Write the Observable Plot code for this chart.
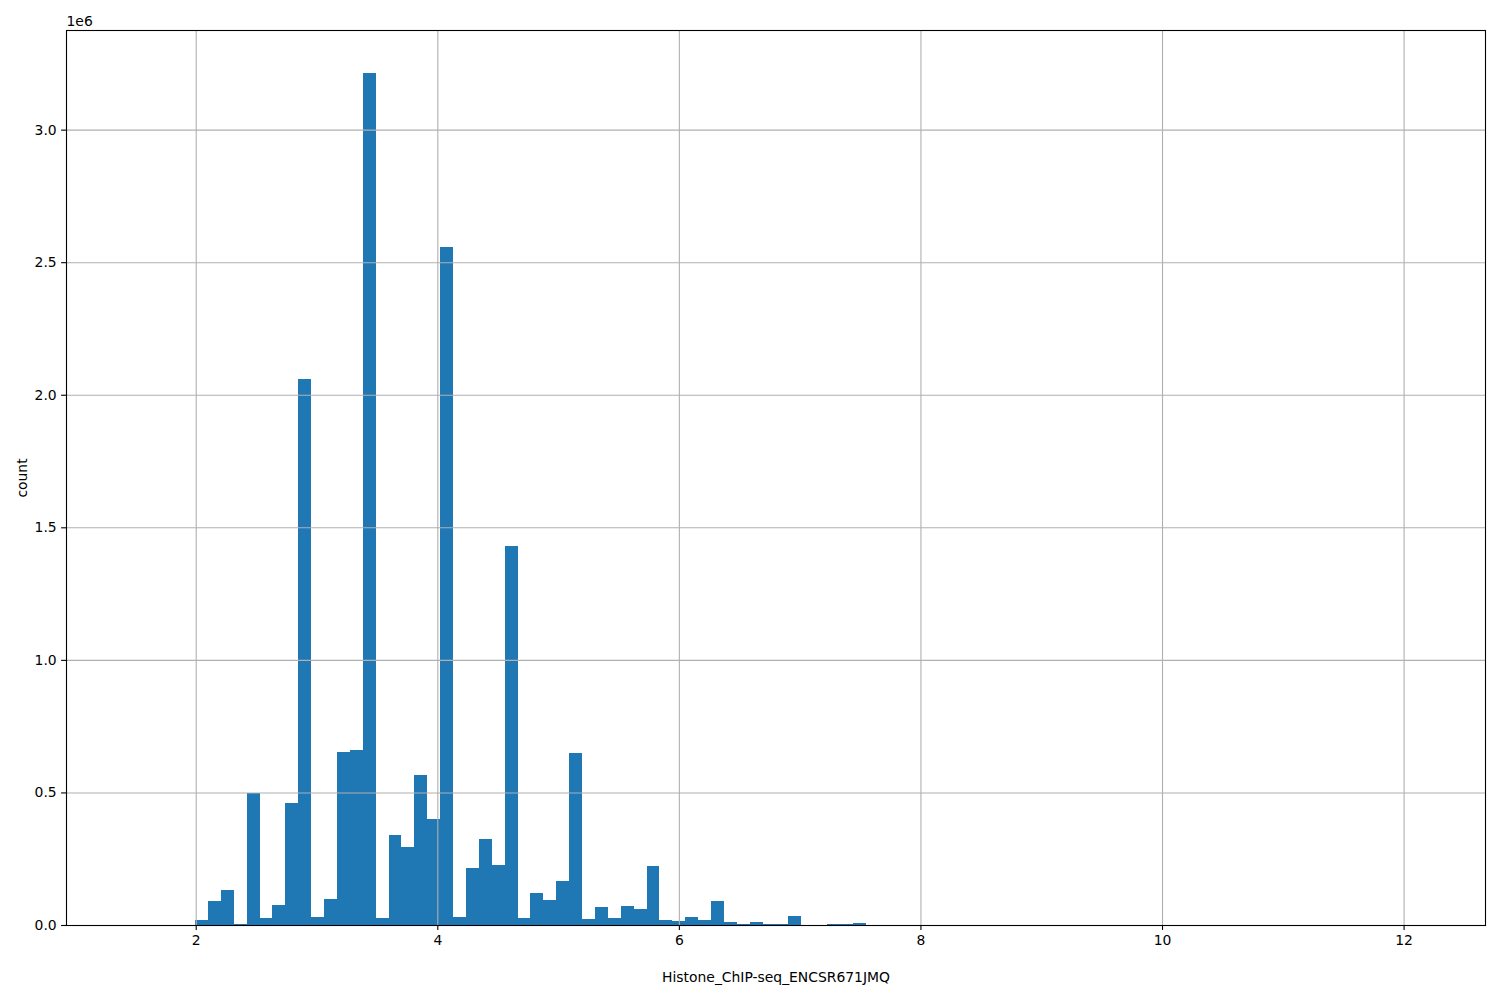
<!DOCTYPE html>
<html>
<head>
<meta charset="utf-8">
<script src="https://cdn.jsdelivr.net/npm/d3@7"></script>
<script src="https://cdn.jsdelivr.net/npm/@observablehq/plot@0.6"></script>
<style>
  html, body { margin: 0; padding: 0; background: white; }
</style>
</head>
<body>
<div id="chart"></div>
<script>
// Histogram: 100 equal-width bins between binMin and binMax
const binMin = 1.46;
const binMax = 12.14;
// counts per bin (in units of 1e6)
const counts = [
  0, 0, 0, 0, 0,
  0.019, 0.090, 0.132, 0.005, 0.496, 0.026, 0.075, 0.460, 2.060, 0.030,
  0.098, 0.653, 0.660, 3.215, 0.026, 0.340, 0.294, 0.566, 0.400, 2.558,
  0.030, 0.215, 0.325, 0.226, 1.430, 0.026, 0.121, 0.094, 0.166, 0.649,
  0.023, 0.068, 0.026, 0.072, 0.060, 0.222, 0.019, 0.015, 0.030, 0.019,
  0.090, 0.011, 0.004, 0.011, 0.004, 0.004, 0.034, 0, 0, 0.003,
  0.003, 0.007, 0, 0, 0, 0, 0, 0, 0, 0,
  0, 0, 0, 0, 0, 0, 0, 0, 0, 0,
  0, 0, 0, 0, 0, 0, 0, 0, 0, 0,
  0, 0, 0, 0, 0, 0, 0, 0, 0, 0,
  0, 0, 0, 0, 0
];
const countScale = 1e6;
const xTicks = [2, 4, 6, 8, 10, 12];
const yTicks = [0, 0.5, 1.0, 1.5, 2.0, 2.5, 3.0].map(v => v * countScale);
const xLabel = "Histone_ChIP-seq_ENCSR671JMQ";
const yLabel = "count";
const offsetLabel = "1e6";

const nBins = counts.length;
const binW = (binMax - binMin) / nBins;
const bins = counts.map((c, i) => ({
  x1: binMin + i * binW,
  x2: binMin + (i + 1) * binW,
  count: c * countScale
}));
const span = binMax - binMin;
const yMax = d3.max(bins, d => d.count) * 1.05;

const font = "DejaVu Sans, sans-serif";
const fs = 13.9;
const gridColor = "#b0b0b0";

const chart = Plot.plot({
  width: 1500,
  height: 1000,
  marginLeft: 66,
  marginRight: 15,
  marginTop: 30,
  marginBottom: 75,
  style: { fontFamily: font, fontSize: fs + "px", background: "white", color: "black" },
  x: { domain: [binMin - 0.05 * span, binMax + 0.05 * span] },
  y: { domain: [0, yMax] },
  marks: [
    Plot.rectY(bins, { x1: "x1", x2: "x2", y: "count", fill: "#1f77b4", inset: 0, shapeRendering: "crispEdges" }),
    Plot.gridX(xTicks, { stroke: gridColor, strokeOpacity: 1, strokeWidth: 1.1 }),
    Plot.gridY(yTicks, { stroke: gridColor, strokeOpacity: 1, strokeWidth: 1.1 }),
    Plot.frame({ stroke: "black", strokeWidth: 1.1 }),
    Plot.axisX(xTicks, {
      tickSize: 4.9, tickPadding: 4.9, strokeWidth: 1.1, label: null,
      fontSize: fs, tickFormat: d => String(d)
    }),
    Plot.axisY(yTicks, {
      tickSize: 4.9, tickPadding: 4.9, strokeWidth: 1.1, label: null,
      fontSize: fs, tickFormat: d => (d / countScale).toFixed(1)
    }),
    Plot.text([xLabel], {
      text: d => d, frameAnchor: "bottom", dy: 52, lineAnchor: "middle",
      textAnchor: "middle", fontSize: fs, fill: "black"
    }),
    Plot.text([yLabel], {
      text: d => d, frameAnchor: "left", dx: -44, rotate: -90, lineAnchor: "middle",
      textAnchor: "middle", fontSize: fs, fill: "black"
    }),
    Plot.text([offsetLabel], {
      text: d => d, frameAnchor: "top-left", dx: 0, dy: -9, textAnchor: "start",
      lineAnchor: "middle", fontSize: fs, fill: "black"
    })
  ]
});
document.getElementById("chart").appendChild(chart);
</script>
</body>
</html>
